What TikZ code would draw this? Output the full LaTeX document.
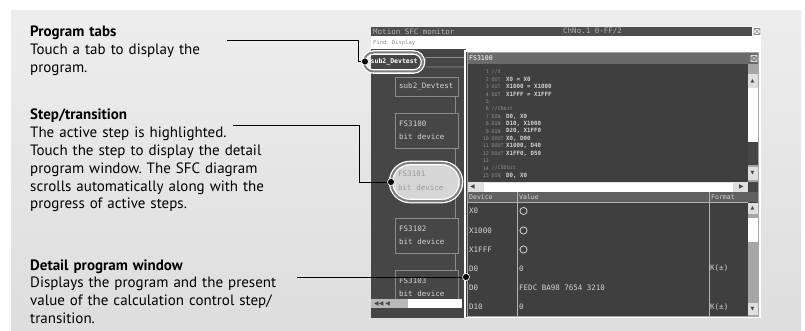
\documentclass[tikz,border=0pt]{standalone}
\usepackage{fontspec}
\setmainfont{PT Sans}
\setmonofont{DejaVu Sans Mono}
\newfontfamily\symfont{DejaVu Sans}
\usepackage{xcolor}
\usepackage{tikz}
\usetikzlibrary{positioning}
\definecolor{panelgray}{HTML}{E9E9E9}
\definecolor{scrdark}{HTML}{464646}
\definecolor{codedark}{HTML}{3F3F3F}
\definecolor{titledark}{HTML}{4E4E4E}
\definecolor{wintitle}{HTML}{6A6A6A}
\definecolor{scrtext}{HTML}{D4D4D4}
\definecolor{keygray}{HTML}{8E8E8E}
\definecolor{boxline}{HTML}{8A8A8A}
\definecolor{ringgray}{HTML}{7E7E7E}
\definecolor{activefill}{HTML}{D6D6D6}
\frenchspacing

\begin{document}
\begin{tikzpicture}[x=1pt, y=-1pt, every node/.style={inner sep=0pt},
  callout/.style={anchor=base west, align=left, text width=280pt, font=\fontsize{15}{17.8}\selectfont},
  leader/.style={line width=0.8pt},
  pin/.style={circle, fill=black, draw=white, line width=0.6pt, minimum size=7pt},
  ring/.style={draw=white, line width=4.6pt, postaction={draw=ringgray, line width=2pt}},
  scr/.style={anchor=west, text=scrtext, font=\ttfamily\fontsize{7.5}{8}\selectfont},
  arrowmark/.style={scr, text=scrdark, font=\symfont\fontsize{5}{5}\selectfont},
  code/.style={anchor=west, text=scrtext, font=\ttfamily\bfseries\fontsize{5.8}{6}\selectfont},
  codekey/.style={code, text=keygray, font=\ttfamily\fontsize{5}{6}\selectfont},
  stepbox/.style={draw=boxline, line width=0.9pt}]
\useasboundingbox (0,0) rectangle (805,331);
\fill[white] (0,0) rectangle (805,331);
\shade[top color=panelgray!80!white, bottom color=panelgray!95!black] (11,11) rectangle (801,331);
% callout texts
\node[callout] (tabsText) at (30,37) {\textbf{Program tabs}\\Touch a tab to display the\\program.};
\node[callout] (stepText) at (30,120) {\textbf{Step/transition}\\The active step is highlighted.\\Touch the step to display the detail\\program window. The SFC diagram\\scrolls automatically along with the\\progress of active steps.};
\node[callout] (detailText) at (30,270) {\textbf{Detail program window}\\Displays the program and the present\\value of the calculation control step/\\transition.};
% monitor screen
\fill[white] (371,27) rectangle (761,51);
\fill[titledark] (371,27) rectangle (752,36);
\node[scr, text=gray!60] (scrTitle) at (373,31.5) {Motion SFC monitor};
\node[scr, text=gray!60] (scrCh) at (563,31.5) {ChNo.1 0-FF/2};
\draw[keygray, line width=0.6pt] (754,28.5) rectangle (760,34.5) (754,28.5) -- (760,34.5) (754,34.5) -- (760,28.5);
\node[scr, text=keygray, font=\ttfamily\fontsize{5.5}{6}\selectfont] (scrMenu) at (373,42.5) {Find\quad Display};
\fill[scrdark] (371,49) rectangle (466,318);
% program tabs
\draw[boxline, line width=0.8pt] (423,67) -- (426,57.5) -- (466,57.5) (426,67) -- (466,67);
\node[scr, text=white, font=\ttfamily\bfseries\fontsize{6.5}{7}\selectfont] (tabCur) at (370.5,62) {sub2\_Devtest};
\draw[ring, rounded corners=9.5pt] (364,52.5) rectangle (423,71.5);
% SFC steps
\draw[boxline, line width=0.9pt] (455,96) -- (455,300);
\filldraw[stepbox, fill=scrdark] (395,77) rectangle (458,96);
\node[scr] (stepTop) at (399,86.5) {sub2\_Devtest};
\foreach \nm/\ya in {FS3100/113, FS3102/218, FS3103/270}{
  \filldraw[stepbox, fill=scrdark] (395,\ya) rectangle (458,{\ya+35});
  \node[scr] at (399,{\ya+11}) {\nm};
  \node[scr] at (399,{\ya+24}) {bit device};
}
\fill[activefill, rounded corners=19pt] (391,163) rectangle (461,201);
\draw[ring, rounded corners=19pt] (391,163) rectangle (461,201);
\node[scr, text=gray!80] (stepAct) at (398,174) {FS3101};
\node[scr, text=gray!80] at (398,188) {bit device};
% horizontal scroll of SFC panel
\fill[gray!55] (371,299) rectangle (408,308);
\fill[white] (408,299) rectangle (462,308);
\node[arrowmark, font=\symfont\fontsize{6}{6}\selectfont] at (374,303.5) {◀◀\,\,◀};
% detail program window
\fill[codedark] (466,51) rectangle (761,318);
\draw[white, line width=1.2pt] (465,51) rectangle (760,317.5);
\draw[gray!70, line width=0.8pt] (467,52.5) rectangle (758.5,316);
\fill[wintitle] (467.5,53) rectangle (758,64);
\node[scr, text=white, font=\ttfamily\fontsize{6.5}{7}\selectfont] (winTitle) at (469,58.5) {FS3100};
\draw[gray!30, line width=0.6pt] (751,55.5) rectangle (757,61.5) (751,55.5) -- (757,61.5) (751,61.5) -- (757,55.5);
% program list
\foreach \n/\kw/\op in {1/{//X}/{}, 2/OUT/{X0 = X0}, 3/OUT/{X1000 = X1000}, 4/OUT/{X1FFF = X1FFF},
  5/{}/{}, 6/{//CNbit}/{}, 7/DIN/{D0, X0}, 8/DIN/{D10, X1000}, 9/DIN/{D20, X1FF0},
  10/DOUT/{X0, D00}, 11/DOUT/{X1000, D40}, 12/DOUT/{X1FF0, D50}, 13/{}/{}, 14/{//CSDbit}/{}, 15/DIN/{D0, X0}}{
  \node[codekey, anchor=east] at (489,{72+(\n-1)*7.4}) {\n};
  \node[codekey] at (491.5,{72+(\n-1)*7.4}) {\kw};
  \node[code] at (506,{72+(\n-1)*7.4}) {\op};
}
% scroll bars of the list
\fill[gray!70] (748,64) rectangle (758,182);
\fill[gray!25] (748,74) rectangle (758,88);
\fill[white] (748,88) rectangle (758,142);
\fill[scrdark] (748,142) rectangle (758,165);
\fill[gray!25] (748,167) rectangle (758,180);
\node[arrowmark] at (750.5,81) {▲};
\node[arrowmark] at (750.5,173.5) {▼};
\fill[gray!25] (467.5,182) rectangle (748,192);
\fill[white] (484,183) rectangle (733,191.5);
\node[arrowmark, font=\symfont\fontsize{6}{6}\selectfont] at (470,187) {◀};
\node[arrowmark, font=\symfont\fontsize{6}{6}\selectfont] at (739,187) {▶};
\fill[scrdark] (749,182) rectangle (758,192);
% device table
\fill[gray!45!scrdark] (467.5,192) rectangle (758,202);
\node[scr, font=\ttfamily\fontsize{6.5}{7}\selectfont] (hdDevice) at (469,197) {Device};
\node[scr, font=\ttfamily\fontsize{6.5}{7}\selectfont] (hdValue) at (519,197) {Value};
\node[scr, font=\ttfamily\fontsize{6.5}{7}\selectfont] (hdFormat) at (711,197) {Format};
\draw[gray!60, line width=0.8pt] (467.5,202.5) -- (748,202.5) (517,192) -- (517,316) (709,192) -- (709,316);
\foreach \dev/\val/\fmt/\y in {X0/{}/{}/211, X1000/{}/{}/230.5, X1FFF/{}/{}/249.5,
  D0/0/K(±)/268.5, D0/{FEDC BA98 7654 3210}/{}/288, D10/0/K(±)/307}{
  \node[scr] at (469,\y) {\dev};
  \node[scr] at (519,\y) {\val};
  \node[scr] at (710,\y) {\fmt};
}
\foreach \y in {211,230.5,249.5}
  \draw[scrtext, line width=0.8pt] (523.5,\y) circle (3.6pt);
\fill[gray!70] (748,202.5) rectangle (758,316);
\fill[gray!25] (748,203) rectangle (758,214);
\fill[white] (748,218) rectangle (758,242);
\fill[gray!25] (748,303) rectangle (758,315);
\node[arrowmark] at (750.5,208.5) {▲};
\node[arrowmark] at (750.5,309) {▼};
% pins and leader lines
\node[pin] (tabsDot) at (365,61.5) {};
\node[pin] (stepDot) at (391,182) {};
\node[pin] (detailDot) at (466,277) {};
\coordinate (tabsLead) at (227,40);
\coordinate (tabsBend) at (358,40);
\coordinate (stepLead) at (233,125);
\coordinate (stepBend) at (359,125);
\coordinate (detailLead) at (297,277);
\draw[leader] (tabsLead) -- (tabsBend) |- (tabsDot);
\draw[leader] (stepLead) -- (stepBend) |- (stepDot);
\draw[leader] (detailLead) -- (detailDot);
\end{tikzpicture}
\end{document}
